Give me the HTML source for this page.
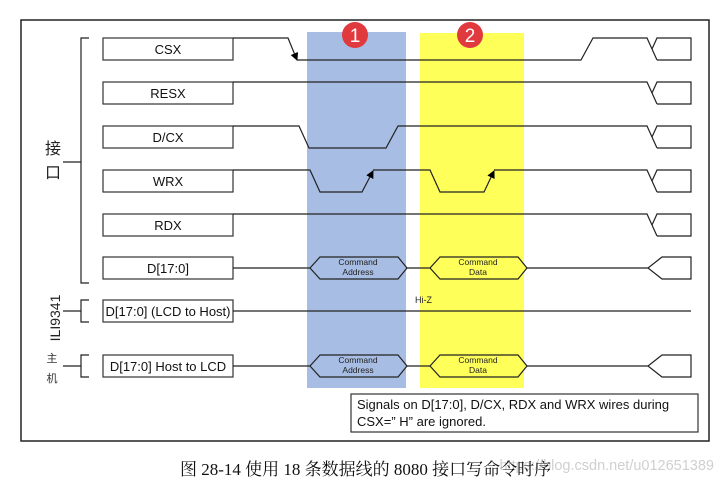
<!DOCTYPE html>
<html><head><meta charset="utf-8"><style>
html,body{margin:0;padding:0;background:#fff;}
svg{display:block;}
text{font-family:"Liberation Sans","Noto Sans CJK SC",sans-serif;}
</style></head><body>
<svg width="724" height="483" viewBox="0 0 724 483" xmlns="http://www.w3.org/2000/svg">
<defs><marker id="ar" markerWidth="8" markerHeight="8" refX="7" refY="4" orient="auto" markerUnits="userSpaceOnUse"><path d="M0,0 L8,4 L0,8 z" fill="#000"/></marker></defs>
<rect x="21" y="20" width="688" height="421" fill="#fff" stroke="#222" stroke-width="1.5"/>
<rect x="307" y="32" width="99" height="356" fill="#a8bde3"/>
<rect x="420" y="33" width="104" height="355" fill="#ffff5a"/>
<circle cx="355" cy="35" r="13" fill="#e0393e"/><text x="355" y="42" font-size="19" fill="#fff" text-anchor="middle">1</text>
<circle cx="470" cy="35" r="13" fill="#e0393e"/><text x="470" y="42" font-size="19" fill="#fff" text-anchor="middle">2</text>
<g fill="#fff" stroke="#333" stroke-width="1.2">
<rect x="103" y="38" width="130" height="22"/><rect x="103" y="82" width="130" height="22"/>
<rect x="103" y="126" width="130" height="22"/><rect x="103" y="170" width="130" height="22"/>
<rect x="103" y="214" width="130" height="22"/><rect x="103" y="257" width="130" height="22"/>
<rect x="103" y="300" width="130" height="22"/><rect x="103" y="355" width="130" height="22"/>
</g>
<g font-size="13" text-anchor="middle" fill="#111">
<text x="168" y="54">CSX</text><text x="168" y="98">RESX</text><text x="168" y="142">D/CX</text>
<text x="168" y="186">WRX</text><text x="168" y="230">RDX</text><text x="168" y="273">D[17:0]</text>
<text x="168" y="316">D[17:0] (LCD to Host)</text><text x="168" y="371">D[17:0] Host to LCD</text>
</g>
<g fill="none" stroke="#222" stroke-width="1.2">
<path d="M89,38 H81 V283 H89 M63,162 H81"/>
<path d="M89,300 H81 V322 H89 M63,311 H81"/>
<path d="M89,355 H81 V377 H89 M63,366 H81"/>
<path d="M233,38 H288 L297,60" marker-end="url(#ar)"/>
<path d="M297,60 H581 L593,38 H647 L657,60 M652,49 L657,38 H691 V60 H657"/>
<path d="M233,82 H647 L657,104 M652,93 L657,82 H691 V104 H657"/>
<path d="M233,126 H299 L309,148 H386 L398,126 H647 L657,148 M652,137 L657,126 H691 V148 H657"/>
<path d="M233,170 H310 L320,192 H362 L373,171" marker-end="url(#ar)"/>
<path d="M373,170 H430 L440,192 H484 L494,171" marker-end="url(#ar)"/>
<path d="M494,170 H647 L657,192 M652,181 L657,170 H691 V192 H657"/>
<path d="M233,214 H647 L657,236 M652,225 L657,214 H691 V236 H657"/>
<path d="M233,311 H691"/>
</g>
<g stroke="#222" stroke-width="1.2">
<path d="M233,268 H310 M407,268 H430 M527,268 H648" fill="none"/>
<path d="M310,268 L320,257 H398 L407,268 L398,279 H320 Z" fill="#a8bde3"/>
<path d="M430,268 L440,257 H518 L527,268 L518,279 H440 Z" fill="#ffff5a"/>
<path d="M691,257 H662 L648,268 L662,279 H691 Z" fill="#fff"/>
<path d="M233,366 H310 M407,366 H430 M527,366 H648" fill="none"/>
<path d="M310,366 L320,355 H398 L407,366 L398,377 H320 Z" fill="#a8bde3"/>
<path d="M430,366 L440,355 H518 L527,366 L518,377 H440 Z" fill="#ffff5a"/>
<path d="M691,355 H662 L648,366 L662,377 H691 Z" fill="#fff"/>
</g>
<g font-size="8.5" text-anchor="middle" fill="#222">
<text x="358" y="265">Command</text><text x="358" y="275">Address</text>
<text x="478" y="265">Command</text><text x="478" y="275">Data</text>
<text x="358" y="363">Command</text><text x="358" y="373">Address</text>
<text x="478" y="363">Command</text><text x="478" y="373">Data</text>
</g>
<text x="415" y="303" font-size="9" fill="#222">Hi-Z</text>
<text x="53" y="154" font-size="16" text-anchor="middle" fill="#222">接</text>
<text x="53" y="178" font-size="16" text-anchor="middle" fill="#222">口</text>
<text transform="translate(60,318) rotate(-90)" font-size="14" text-anchor="middle" fill="#222">ILI9341</text>
<text x="52" y="362" font-size="11" text-anchor="middle" fill="#333">主</text>
<text x="52" y="382" font-size="11" text-anchor="middle" fill="#333">机</text>
<rect x="351" y="394" width="347" height="38" fill="#fff" stroke="#333" stroke-width="1.2"/>
<text x="357" y="409" font-size="13" fill="#111">Signals on D[17:0], D/CX, RDX and WRX wires during</text>
<text x="357" y="426" font-size="13" fill="#111">CSX=” H”  are ignored.</text>
<text x="714" y="470" font-size="14.5" text-anchor="end" fill="#d0d0d0">https://blog.csdn.net/u012651389</text>
<text x="180" y="475" font-size="17" fill="#111" style="font-family:'Liberation Serif','Noto Serif CJK SC',serif">图 28-14 使用 18 条数据线的 8080 接口写命令时序</text>
</svg>
</body></html>
